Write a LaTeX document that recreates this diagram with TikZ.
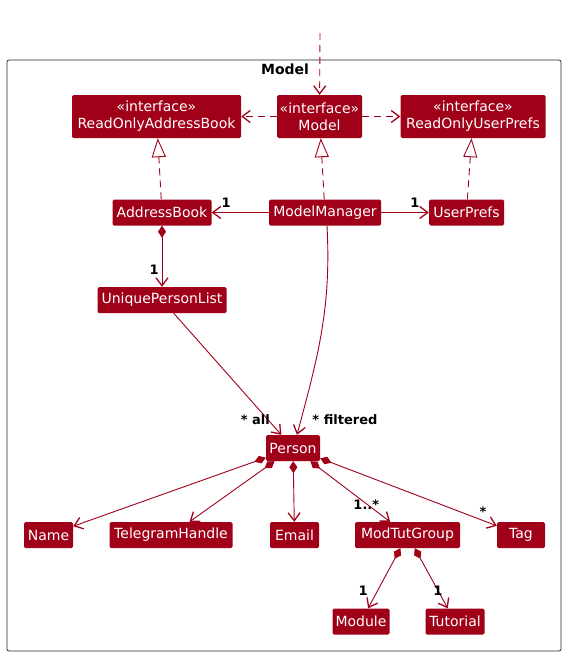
\documentclass[tikz,border=0pt]{standalone}
\usepackage{fontspec}
\setmainfont{DejaVu Sans}
\usetikzlibrary{arrows.meta}
\definecolor{umlred}{RGB}{160,0,24}
\definecolor{framegray}{RGB}{40,40,40}

\begin{document}
\begin{tikzpicture}[
  x=1pt, y=-1pt,
  cls/.style={
    rounded corners=1.5pt,
    fill=umlred,
    text=white,
    inner sep=0pt,
    minimum height=26pt,
    align=center,
    font=\fontsize{14}{17}\selectfont
  },
  iface/.style={cls, minimum height=43pt},
  mult/.style={font=\fontsize{13}{15}\selectfont\bfseries, text=black, inner sep=1pt},
  assoc/.style={-{Straight Barb[length=8pt, width=12pt, line width=1.3pt]}, umlred, line width=0.9pt},
  comp/.style={{Diamond[length=12pt, width=8pt]}-{Straight Barb[length=8pt, width=12pt, line width=1.3pt]}, umlred, line width=0.9pt},
  dep/.style={assoc, dash pattern=on 7pt off 5pt},
  impl/.style={-{Triangle[open, length=19pt, width=14pt, fill=white]}, umlred, line width=0.9pt, dash pattern=on 7pt off 5pt}
]
\useasboundingbox (0,0) rectangle (566,656);
\draw[framegray, line width=0.8pt, rounded corners=2pt] (7,60) rectangle (561,651);
\node[mult, font=\fontsize{14}{16}\selectfont\bfseries] (pkgtitle) at (285,69) {Model};

% interfaces
\node[iface, minimum width=169pt] (roab) at (156.5,116.5) {«interface»\\ReadOnlyAddressBook};
\node[iface, minimum width=85pt] (model) at (319.5,116.5) {«interface»\\Model};
\node[iface, minimum width=145pt] (roup) at (473,116.5) {«interface»\\ReadOnlyUserPrefs};

% classes
\node[cls, minimum width=99pt] (addressbook) at (162,212.5) {AddressBook};
\node[cls, minimum width=112pt] (modelmanager) at (325,212.5) {ModelManager};
\node[cls, minimum width=75pt] (userprefs) at (466.5,212.5) {UserPrefs};
\node[cls, minimum width=129pt] (upl) at (162,300) {UniquePersonList};
\node[cls, minimum width=54pt] (person) at (293,448) {Person};
\node[cls, minimum width=49pt] (name) at (48.5,535) {Name};
\node[cls, minimum width=123pt] (telegram) at (171,535) {TelegramHandle};
\node[cls, minimum width=49pt] (email) at (294.5,535) {Email};
\node[cls, minimum width=105pt] (modtut) at (407.5,535) {ModTutGroup};
\node[cls, minimum width=48pt] (tag) at (521,535) {Tag};
\node[cls, minimum width=57pt] (module) at (361,621.5) {Module};
\node[cls, minimum width=59pt] (tutorial) at (455,621.5) {Tutorial};

\coordinate (caller) at (320,33);
\draw[dep] (caller) -- (model);
\draw[dep] (model) -- (roab);
\draw[dep] (model) -- (roup);
\draw[impl] (addressbook) -- (roab);
\draw[impl] (modelmanager) -- (model);
\draw[impl] (userprefs) -- (roup);

\draw[assoc] (modelmanager) -- (addressbook)
  node[mult, pos=1, anchor=south west, xshift=8.5pt, yshift=3.5pt] {1};
\draw[assoc] (modelmanager) -- (userprefs)
  node[mult, pos=1, anchor=south east, xshift=-8pt, yshift=3.5pt] {1};
\draw[comp] (addressbook) -- (upl)
  node[mult, pos=1, anchor=south east, xshift=-2pt, yshift=11pt] {1};
\draw[assoc] (upl) -- (person)
  node[mult, pos=1, anchor=south east, xshift=-10pt, yshift=9pt] {* all};
\draw[assoc] ([xshift=2pt]modelmanager.south) to[out=-87, in=75]
  node[mult, pos=1, anchor=south west, xshift=14pt, yshift=9pt] {* filtered} ([xshift=4pt]person.north);

\draw[comp] (person) -- (name);
\draw[comp] (person) -- (telegram);
\draw[comp] (person) -- (email);
\draw[comp] (person) -- (modtut)
  node[mult, pos=1, anchor=south east, xshift=-9.5pt, yshift=11pt] {1..*};
\draw[comp] (person) -- (tag)
  node[mult, pos=1, anchor=south east, xshift=-9pt, yshift=8pt] {*};
\draw[comp] (modtut) -- (module)
  node[mult, pos=1, anchor=south east, xshift=1pt, yshift=11pt] {1};
\draw[comp] (modtut) -- (tutorial)
  node[mult, pos=1, anchor=south east, xshift=-4pt, yshift=11pt] {1};
\end{tikzpicture}
\end{document}
